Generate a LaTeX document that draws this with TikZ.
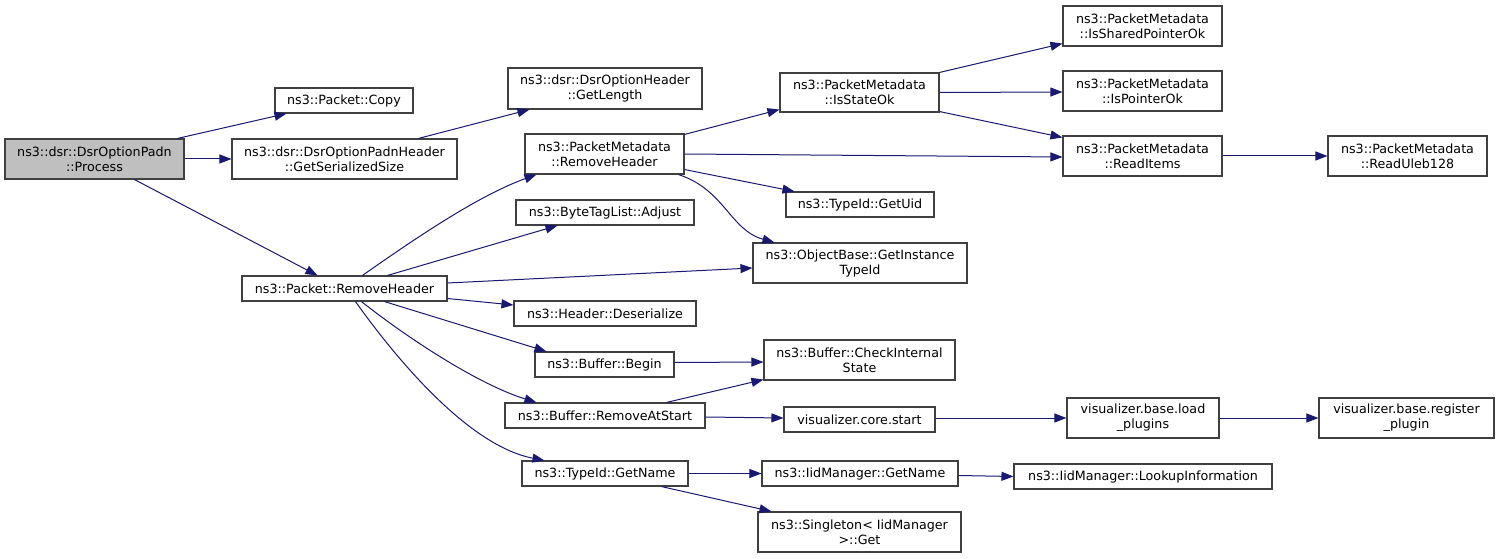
\documentclass[tikz,border=0pt]{standalone}
\usepackage{fontspec}
\setmainfont{DejaVu Sans}
\usetikzlibrary{arrows.meta}
\definecolor{edgec}{HTML}{191970}
\definecolor{boxc}{HTML}{404040}
\definecolor{rootc}{HTML}{BFBFBF}
\tikzset{
 box/.style={draw=boxc, line width=1.1pt, fill=white, inner sep=0pt, align=center, font=\fontsize{12.7}{15}\selectfont},
 rootbox/.style={box, fill=rootc},
 call/.style={draw=edgec, line width=1pt, -{Triangle[length=12pt,width=9pt]}},
}
\begin{document}
\begin{tikzpicture}[x=1pt,y=-1pt]
\useasboundingbox (0,0) rectangle (1500,559);
% nodes
\node[rootbox, minimum width=179pt, minimum height=40pt] (proc) at (94.5,159) {ns3::dsr::DsrOptionPadn\\::Process};
\node[box, minimum width=138pt, minimum height=25pt] (copy) at (344,100.5) {ns3::Packet::Copy};
\node[box, minimum width=225pt, minimum height=40pt] (gss) at (344.5,159) {ns3::dsr::DsrOptionPadnHeader\\::GetSerializedSize};
\node[box, minimum width=205pt, minimum height=25pt] (prh) at (344.5,288.5) {ns3::Packet::RemoveHeader};
\node[box, minimum width=194pt, minimum height=41pt] (glen) at (605,88.5) {ns3::dsr::DsrOptionHeader\\::GetLength};
\node[box, minimum width=159pt, minimum height=40pt] (pmrh) at (604.5,154) {ns3::PacketMetadata\\::RemoveHeader};
\node[box, minimum width=178pt, minimum height=25pt] (adj) at (605,212.5) {ns3::ByteTagList::Adjust};
\node[box, minimum width=159pt, minimum height=39pt] (iso) at (859.5,92.5) {ns3::PacketMetadata\\::IsStateOk};
\node[box, minimum width=148pt, minimum height=25pt] (uid) at (860,204.5) {ns3::TypeId::GetUid};
\node[box, minimum width=214pt, minimum height=40pt] (git) at (860,263) {ns3::ObjectBase::GetInstance\\TypeId};
\node[box, minimum width=182pt, minimum height=25pt] (deser) at (605,313.5) {ns3::Header::Deserialize};
\node[box, minimum width=139pt, minimum height=25pt] (begin) at (604.5,364.5) {ns3::Buffer::Begin};
\node[box, minimum width=191pt, minimum height=40pt] (cis) at (859.5,360) {ns3::Buffer::CheckInternal\\State};
\node[box, minimum width=200pt, minimum height=25pt] (ras) at (605,415.5) {ns3::Buffer::RemoveAtStart};
\node[box, minimum width=151pt, minimum height=25pt] (vcs) at (859.5,419.5) {visualizer.core.start};
\node[box, minimum width=166pt, minimum height=25pt] (tgn) at (605,473.5) {ns3::TypeId::GetName};
\node[box, minimum width=196pt, minimum height=25pt] (ign) at (860,473.5) {ns3::IidManager::GetName};
\node[box, minimum width=203pt, minimum height=40pt] (sing) at (859.5,532) {ns3::Singleton< IidManager\\>::Get};
\node[box, minimum width=159pt, minimum height=40pt] (ispo) at (1142.5,26) {ns3::PacketMetadata\\::IsSharedPointerOk};
\node[box, minimum width=159pt, minimum height=40pt] (ipo) at (1142.5,91) {ns3::PacketMetadata\\::IsPointerOk};
\node[box, minimum width=159pt, minimum height=40pt] (ri) at (1142.5,156) {ns3::PacketMetadata\\::ReadItems};
\node[box, minimum width=159pt, minimum height=40pt] (ru) at (1407.5,156) {ns3::PacketMetadata\\::ReadUleb128};
\node[box, minimum width=152pt, minimum height=40pt] (lp) at (1143,418) {visualizer.base.load\\\_plugins};
\node[box, minimum width=175pt, minimum height=40pt] (rp) at (1406.5,418) {visualizer.base.register\\\_plugin};
\node[box, minimum width=258pt, minimum height=25pt] (lookup) at (1143,476.5) {ns3::IidManager::LookupInformation};
% edges
\draw[call] ([xshift=173pt]proc.north west) -- ([xshift=12pt]copy.south west);
\draw[call] (proc.east) -- (gss.west);
\draw[call] ([xshift=130pt]proc.south west) -- ([xshift=76pt]prh.north west);
\draw[call] ([xshift=187pt]gss.north west) -- ([xshift=22pt]glen.south west);
\draw[call] ([xshift=121pt]prh.north west) .. controls (420,235) and (480,195) .. ([xshift=12pt]pmrh.south west);
\draw[call] ([xshift=146pt]prh.north west) -- ([xshift=42pt]adj.south west);
\draw[call] ([yshift=5.5pt]prh.east) -- ([yshift=-5pt]git.west);
\draw[call] ([yshift=-10pt]prh.east) -- ([yshift=8.5pt]deser.west);
\draw[call] ([xshift=143pt]prh.south west) -- ([xshift=12pt]begin.north west);
\draw[call] ([xshift=120pt]prh.south west) .. controls (410,340) and (480,385) .. ([xshift=32pt]ras.north west);
\draw[call] ([xshift=114pt]prh.south west) .. controls (390,350) and (465,445) .. ([xshift=23pt]tgn.north west);
\draw[call] ([yshift=-1pt]pmrh.north east) -- ([yshift=3pt]iso.south west);
\draw[call] (pmrh.east) -- ([yshift=-1pt]ri.west);
\draw[call] ([yshift=5pt]pmrh.south east) -- ([xshift=9pt]uid.north west);
\draw[call] ([xshift=-6pt]pmrh.south east) .. controls (725,190) and (730,230) .. ([xshift=22pt]git.north west);
\draw[call] (iso.north east) -- ([yshift=3pt]ispo.south west);
\draw[call] (iso.east) -- ([yshift=-1pt]ipo.west);
\draw[call] ([yshift=1pt]iso.south east) -- ([yshift=-2pt]ri.north west);
\draw[call] (ri.east) -- (ru.west);
\draw[call] ([yshift=2pt]begin.east) -- ([yshift=-2pt]cis.west);
\draw[call] ([xshift=162pt]ras.north west) -- ([yshift=1pt]cis.south west);
\draw[call] ([yshift=-1.5pt]ras.east) -- ([yshift=1.5pt]vcs.west);
\draw[call] ([yshift=1.5pt]vcs.east) -- (lp.west);
\draw[call] (lp.east) -- (rp.west);
\draw[call] (tgn.east) -- (ign.west);
\draw[call] ([xshift=140pt]tgn.south west) -- ([xshift=14pt]sing.north west);
\draw[call] ([yshift=-2pt]ign.east) -- (lookup.west);
\end{tikzpicture}
\end{document}
